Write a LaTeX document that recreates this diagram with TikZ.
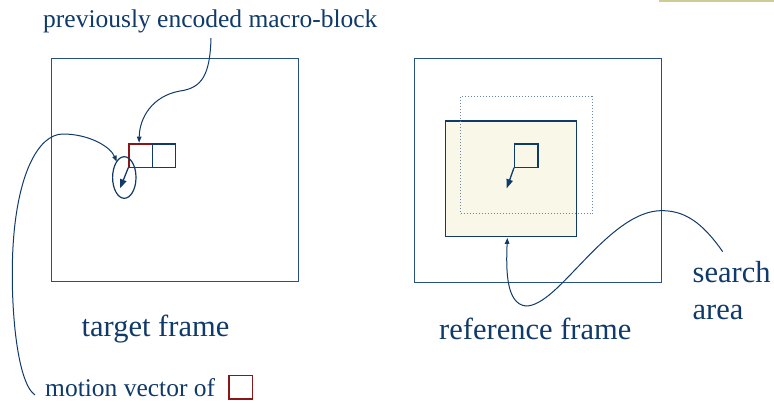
\documentclass[tikz,border=0pt]{standalone}
\usepackage{fontspec}
\setmainfont{Liberation Serif}
\usetikzlibrary{arrows.meta,calc,shapes.geometric}
\definecolor{navy}{RGB}{16,58,106}
\definecolor{framec}{RGB}{40,80,128}
\definecolor{redbox}{RGB}{140,22,22}
\definecolor{shade}{RGB}{248,247,232}
\definecolor{dotc}{RGB}{110,135,165}
\definecolor{tan}{RGB}{204,204,150}
\begin{document}
\begin{tikzpicture}[x=1pt,y=-1pt,
  frame/.style={draw=framec,line width=1.4pt,inner sep=0pt,anchor=north west},
  blk/.style={draw=navy,line width=1.2pt,inner sep=0pt,anchor=north west,minimum width=23.4pt,minimum height=23.2pt},
  lbl/.style={text=navy,inner sep=0pt,anchor=base west,font=\fontsize{25.5}{30}\selectfont},
  big/.style={text=navy,inner sep=0pt,anchor=base west,font=\fontsize{30.5}{35}\selectfont},
  conn/.style={draw=navy,line width=1pt,-{Triangle[length=6pt,width=4.5pt]}},
  mv/.style={draw=navy,line width=1.3pt,-{Triangle[length=9pt,width=6.5pt]}}]
\useasboundingbox (0,0) rectangle (774,402);
\fill[tan] (659,0) rectangle (774,2.2);
% frames
\node[frame,minimum width=247pt,minimum height=223pt] (tf) at (51,58) {};
\node[frame,minimum width=247pt,minimum height=224pt] (rf) at (413.5,58) {};
% reference frame content
\node[frame,draw=navy,fill=shade,minimum width=131.3pt,minimum height=115.4pt] (sa) at (444.7,120.3) {};
\node[draw=dotc,dotted,line width=1pt,inner sep=0pt,anchor=north west,minimum width=131.7pt,minimum height=117.3pt] (da) at (460,96) {};
\node[blk] (rb) at (514,143.3) {};
\coordinate (rv) at (506.7,188.3);
\draw[mv] (rb.south west) -- (rv);
% target frame content
\node[blk,draw=redbox] (cb) at (128.3,143.3) {};
\node[blk] (nb) at (151.7,143.3) {};
\node[draw=navy,line width=1.2pt,ellipse,minimum width=23.4pt,minimum height=41.6pt,inner sep=0pt] (el) at (124.3,177.5) {};
\coordinate (tv) at (120,188.3);
\draw[mv] (cb.south west) -- (tv);
% labels
\node[lbl] (prev) at (43,27) {previously encoded macro-block};
\node[big] (tfl) at (81.5,336) {target frame};
\node[big] (rfl) at (439,339) {reference frame};
\node[big] (s1) at (692.5,282.7) {search};
\node[big] (s2) at (692.5,319.3) {area};
\node[lbl] (mvl) at (45,396.7) {motion vector of};
\node[draw=redbox,line width=1.2pt,inner sep=0pt,anchor=north west,minimum width=23.4pt,minimum height=23.3pt] (mvb) at (228.3,375) {};
% connectors
\coordinate (p0) at (211,38);
\coordinate (p1) at ($(cb.north)+(-1.5,-0.6)$);
\draw[conn] (p0) .. controls (210,75) and (202,88) .. (180,91) .. controls (152,96) and (139.5,118) .. (p1);
\coordinate (m0) at (35,395);
\coordinate (m1) at (116.7,161.7);
\draw[conn] (m0) .. controls (16,382) and (10,300) .. (13,247) .. controls (17,175) and (38,134) .. (63,134) .. controls (88,134) and (110,146) .. (m1);
\coordinate (s0) at (722.7,251.7);
\coordinate (s9) at ($(sa.south)+(-3.7,0.8)$);
\draw[conn] (s0) .. controls (702,222) and (684,210) .. (660,210.7) .. controls (622,212) and (585,262) .. (556,289) .. controls (542,302) and (533,306) .. (526,306) .. controls (506,304) and (506,270) .. (s9);
\end{tikzpicture}
\end{document}
